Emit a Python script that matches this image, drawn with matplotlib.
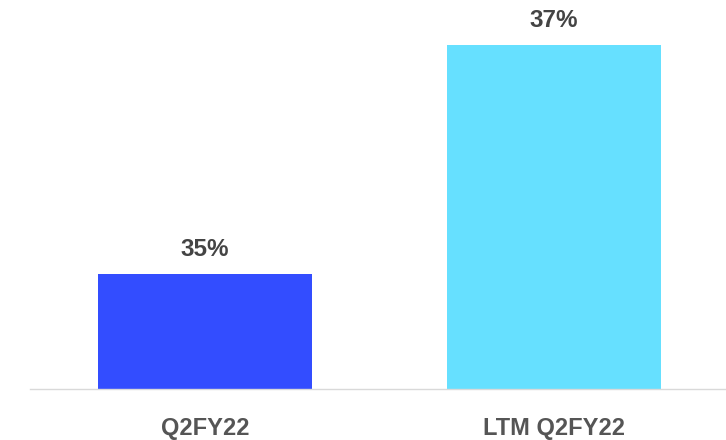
import matplotlib
matplotlib.use("Agg")
import matplotlib.pyplot as plt

categories = ["Q2FY22", "LTM Q2FY22"]
values = [35, 37]
labels = ["35%", "37%"]
colors = ["#334DFF", "#66E0FF"]

plt.rcParams['font.family'] = ['Liberation Sans', 'DejaVu Sans']

fig = plt.figure(figsize=(7.26, 4.40), dpi=100)
ax = fig.add_axes([30/726, 51/440, 696/726, 389/440])
x = list(range(len(categories)))
ax.bar(x, values, width=0.613, color=colors, bottom=0)
ax.set_ylim(34, 37.39)
ax.set_xlim(-0.501, 1.493)

for xi, v, lab in zip(x, values, labels):
    ax.annotate(lab, (xi, v), xytext=(0, 17.5), textcoords="offset points",
                ha="center", va="center", fontsize=17.5, fontweight="bold", color="#444444")

ax.set_xticks(x)
ax.set_xticklabels(categories, fontsize=17, fontweight="bold", color="#555555")
ax.tick_params(axis="x", length=0, pad=20)
ax.set_yticks([])
for s in ["top", "right", "left"]:
    ax.spines[s].set_visible(False)
ax.spines["bottom"].set_color("#d9d9d9")
ax.spines["bottom"].set_linewidth(1)

fig.savefig("out.png", dpi=100)
